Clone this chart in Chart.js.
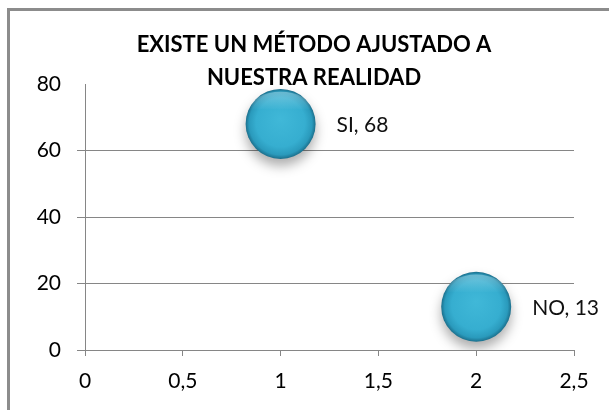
<!DOCTYPE html>
<html>
<head>
<meta charset="utf-8">
<script src="https://cdn.jsdelivr.net/npm/chart.js@4.4.1/dist/chart.umd.min.js"></script>
<style>
  html, body { margin: 0; padding: 0; background: #fff; overflow: hidden; }
  #wrap { position: relative; width: 609px; height: 410px; }
  #myChart { position: absolute; left: 0; top: 0; }
  #frame {
    position: absolute; left: 7px; top: 8px; width: 640px; height: 440px;
    border-top: 3px solid #8c8c8c; border-left: 3px solid #8c8c8c;
    pointer-events: none;
  }
</style>
</head>
<body>
<div id="wrap">
  <canvas id="myChart" width="609" height="410"></canvas>
  <div id="frame"></div>
</div>
<script>
const ctx = document.getElementById('myChart');

// bubble data
const pointNames = ['SI', 'NO'];
const xValues = [1, 2];
const yValues = [68, 13];
const xTickLabels = ['0', '0,5', '1', '1,5', '2', '2,5'];
const yTickLabels = ['0', '20', '40', '60', '80'];
const titleLines = ['EXISTE UN MÉTODO AJUSTADO A', 'NUESTRA REALIDAD'];

const gridGrey = '#868686';
const bubbleR = 35;

/*****PLUGINS*****
*****************/
// soft drop shadow under the bubbles
const bubbleShadow = {
  id: 'bubbleShadow',
  beforeDatasetDraw(chart) {
    const c = chart.ctx;
    c.save();
    c.shadowColor = 'rgba(0,0,0,0.32)';
    c.shadowBlur = 12;
    c.shadowOffsetX = 0;
    c.shadowOffsetY = 7;
  },
  afterDatasetDraw(chart) {
    chart.ctx.restore();
  }
};

// glossy rim + "SI, 68" style labels next to each bubble
const bubbleLabels = {
  id: 'bubbleLabels',
  afterDatasetsDraw(chart) {
    const c = chart.ctx;
    const meta = chart.getDatasetMeta(0);
    meta.data.forEach((el, i) => {
      const r = el.options.radius;
      // light band near the top edge
      c.save();
      const g = c.createLinearGradient(0, el.y - r, 0, el.y - r * 0.4);
      g.addColorStop(0, 'rgba(255,255,255,0.35)');
      g.addColorStop(1, 'rgba(255,255,255,0)');
      c.beginPath();
      c.ellipse(el.x, el.y - r * 0.42, r * 0.86, r * 0.5, 0, Math.PI, 2 * Math.PI);
      c.fillStyle = g;
      c.fill();
      c.restore();

      c.save();
      c.font = '21px Lato';
      c.fillStyle = '#111';
      c.textAlign = 'left';
      c.textBaseline = 'middle';
      c.fillText(`${pointNames[i]}, ${yValues[i]}`, el.x + r + 21, el.y + 1);
      c.restore();
    });
  }
};

function bubbleFill(context) {
  const chart = context.chart;
  if (!chart.chartArea || !context.raw) return '#36a9cb';
  const cx = chart.scales.x.getPixelForValue(context.raw.x);
  const cy = chart.scales.y.getPixelForValue(context.raw.y);
  const g = chart.ctx.createRadialGradient(cx, cy - bubbleR * 0.15, 0, cx, cy, bubbleR);
  g.addColorStop(0, '#40b8d8');
  g.addColorStop(0.7, '#36aed0');
  g.addColorStop(0.9, '#2a9abc');
  g.addColorStop(1, '#1b6f8c');
  return g;
}

/****CHART*****
**************/
const tempChart = new Chart(ctx, {
  type: 'bubble',
  data: {
    datasets: [{
      label: 'respuestas',
      data: xValues.map((x, i) => ({ x: x, y: yValues[i] })),
      radius: bubbleR,
      hoverRadius: 0,
      backgroundColor: bubbleFill,
      borderWidth: 0
    }]
  },
  options: {
    responsive: false,
    animation: false,
    layout: { padding: { left: 19, right: 0, top: 0, bottom: 0 } },
    plugins: {
      legend: { display: false },
      tooltip: { enabled: false },
      title: {
        display: true,
        text: titleLines,
        color: '#000',
        font: { family: 'Lato', size: 22, weight: 'bold', lineHeight: 1.5 },
        padding: { top: 28.5, bottom: -10.5 }
      }
    },
    scales: {
      x: {
        type: 'linear',
        min: 0,
        max: 2.5,
        afterFit(scale) { scale.height = 60; },
        afterBuildTicks(scale) {
          scale.ticks = xTickLabels.map((t, i) => ({ value: i * 0.5 }));
        },
        ticks: {
          color: '#000',
          font: { family: 'Lato', size: 21 },
          padding: 13,
          maxRotation: 0,
          autoSkip: false,
          callback: (v, i) => xTickLabels[i]
        },
        grid: {
          drawOnChartArea: false,
          drawTicks: true,
          tickLength: 6,
          color: gridGrey
        },
        border: { display: true, color: gridGrey, width: 1 }
      },
      y: {
        type: 'linear',
        min: 0,
        max: 80,
        afterFit(scale) { scale.width = 66; },
        afterBuildTicks(scale) {
          scale.ticks = yTickLabels.map(t => ({ value: Number(t) }));
        },
        ticks: {
          color: '#000',
          font: { family: 'Lato', size: 21 },
          padding: 16,
          autoSkip: false,
          callback: (v, i) => yTickLabels[i]
        },
        grid: {
          drawTicks: true,
          tickLength: 8,
          color: c => (c.tick && c.tick.value === 80) ? 'rgba(0,0,0,0)' : gridGrey,
          tickColor: c => (c.tick && c.tick.value === 80) ? 'rgba(0,0,0,0)' : gridGrey
        },
        border: { display: true, color: gridGrey, width: 1 }
      },
      // empty right-hand strip so the plot stops short of the edge
      spacer: {
        type: 'linear',
        position: 'right',
        afterFit(scale) { scale.width = 30; },
        ticks: { display: false },
        grid: { display: false },
        border: { display: false }
      }
    }
  },
  plugins: [bubbleShadow, bubbleLabels]
});
</script>
</body>
</html>
